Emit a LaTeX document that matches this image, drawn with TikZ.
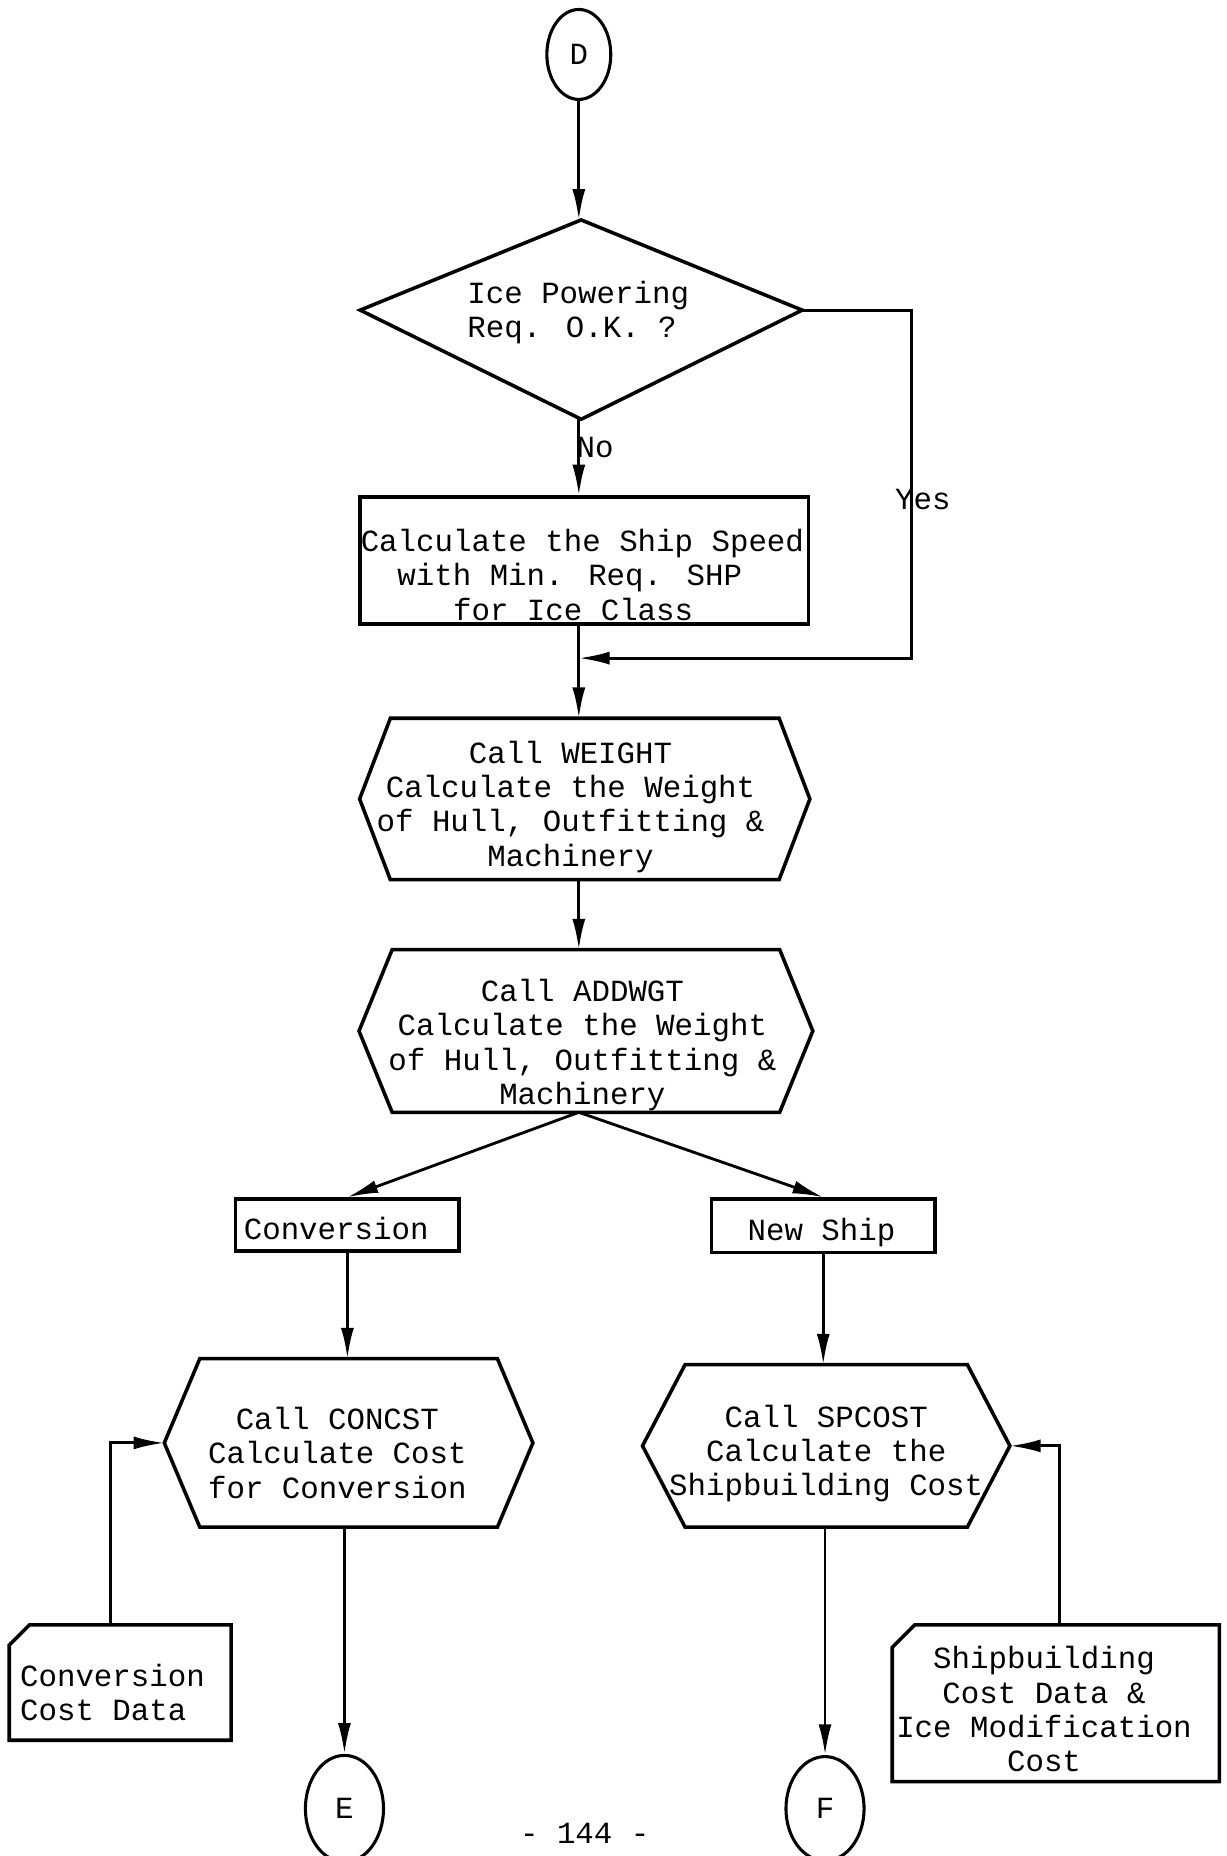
\documentclass[tikz,border=0pt]{standalone}
\usepackage{fontspec}
\newfontfamily\cour{Liberation Mono}
\usetikzlibrary{arrows.meta,shapes.geometric,calc}

% hexagonal "call" box drawn round a frame node
\newcommand\hexpath[2]{%
  \draw[outline] ($(#1.north west)+(#2,0)$) -- ($(#1.north east)+(-#2,0)$)
    -- (#1.east) -- ($(#1.south east)+(-#2,0)$)
    -- ($(#1.south west)+(#2,0)$) -- (#1.west) -- cycle;}
% punched-card data box with clipped top-left corner
\newcommand\cardpath[2]{%
  \draw[outline] ($(#1.north west)+(#2,0)$) -- (#1.north east)
    -- (#1.south east) -- (#1.south west)
    -- ($(#1.north west)+(0,#2)$) -- cycle;}

\begin{document}
\begin{tikzpicture}[x=1pt,y=-1pt,
  every node/.style={font=\cour\fontsize{26}{29}\selectfont, align=center, inner sep=0pt},
  outline/.style={draw, line width=3pt, line join=miter},
  arr/.style={line width=2.4pt, -{Latex[length=26pt,width=11pt]}},
  plain/.style={line width=2.4pt},
  connector/.style={draw, ellipse, line width=2.6pt, minimum width=#1},
  frame/.style={rectangle, minimum width=#1},
  box/.style={draw, rectangle, line width=3pt, minimum width=#1},
  lbl/.style={anchor=west, inner sep=0pt}]

\fill[white] (0,0) rectangle (1036,1568);
\useasboundingbox (0,0) rectangle (1036,1568);

\coordinate (spine) at (489,0);

% ---- connectors (circles) ----
\node[connector=54pt, minimum height=76pt] (D) at (489,46) {D};
\node[connector=66pt, minimum height=90pt] (E) at (291,1528) {E};
\node[connector=66pt, minimum height=88pt] (F) at (697,1528) {F};

% ---- decision ----
\node[frame=373pt, minimum height=168pt] (q) at (491,270) {};
\coordinate (qE) at ($(q.east)+(0,-8)$);
\coordinate (qW) at ($(q.west)+(0,-8)$);
\draw[outline] (q.north) -- (qE) -- (q.south) -- (qW) -- cycle;
\node[align=left] (qT) at (488.5,264) {Ice Powering\\Req. O.K. ?};

% ---- process box ----
\node[box=379pt, minimum height=107pt] (spd) at (493.5,473.5) {};
\node[align=left] (spdT) at (492,485.5)
  {Calculate the Ship Speed\\\hspace*{31pt}with Min. Req. SHP\\\hspace*{78pt}for Ice Class};

% ---- subroutine calls ----
\node[frame=380pt, minimum height=136pt] (wt) at (494,675) {};
\hexpath{wt}{26}
\node (wtT) at (482,681.5)
  {Call WEIGHT\\Calculate the Weight\\of Hull, Outfitting \&\\Machinery};

\node[frame=383pt, minimum height=137pt] (aw) at (495,871) {};
\hexpath{aw}{28}
\node (awT) at (492,883)
  {Call ADDWGT\\Calculate the Weight\\of Hull, Outfitting \&\\Machinery};

% ---- branch boxes ----
\node[box=189pt, minimum height=44pt] (conv) at (293.5,1035) {};
\node (convT) at (284,1038) {Conversion};
\node[box=189pt, minimum height=45pt] (new) at (695.5,1035.5) {};
\node (newT) at (694,1041.5) {New Ship};

\node[frame=311pt, minimum height=142pt] (cc) at (294.5,1219) {};
\hexpath{cc}{30}
\node (ccT) at (285,1227.5) {Call CONCST\\Calculate Cost\\for Conversion};

\node[frame=310pt, minimum height=137pt] (sp) at (698,1221.5) {};
\hexpath{sp}{36}
\node (spT) at (698,1228)
  {Call SPCOST\\Calculate the\hspace*{24pt}\\Shipbuilding Cost};

% ---- data cards ----
\node[frame=187pt, minimum height=97pt] (ccd) at (101.5,1421.5) {};
\cardpath{ccd}{17}
\node[align=left] (ccdT) at (95,1430) {Conversion\\Cost Data};

\node[frame=276pt, minimum height=132pt] (sbd) at (892,1439) {};
\cardpath{sbd}{19}
\node (sbdT) at (882,1444)
  {Shipbuilding\\Cost Data \&\hspace*{16pt}\\Ice Modification\\Cost};

\node (pg) at (494,1549) {- 144 -};

% ---- flow lines ----
\draw[arr] (D.south) -- (spine |- q.north);
\draw[arr] (spine |- q.south) -- (spine |- spd.north);
\node[lbl] (no) at (487,378) {No};

\coordinate (join) at (489,556);
\draw[plain] (spine |- spd.south) -- (join);
\draw[arr] (join) -- (spine |- wt.north);
\draw[arr] (qE) -- ++(92,0) coordinate (yesc) |- (join);
\node[lbl] (yes) at (756,422) {Yes};

\draw[arr] (spine |- wt.south) -- (spine |- aw.north);

\draw[arr] (spine |- aw.south) -- (conv.north);
\draw[arr] (spine |- aw.south) -- (new.north);

\draw[arr] (conv.south) -- (conv.south |- cc.north);
\draw[arr] (new.south) -- (new.south |- sp.north);

\draw[arr] (E.north |- cc.south) -- (E.north);
\draw[arr] (F.north |- sp.south) -- (F.north);

\draw[arr] ([xshift=-8pt]ccd.north) |- (cc.west);
\draw[arr] ([xshift=3pt]sbd.north) |- (sp.east);

\end{tikzpicture}
\end{document}
